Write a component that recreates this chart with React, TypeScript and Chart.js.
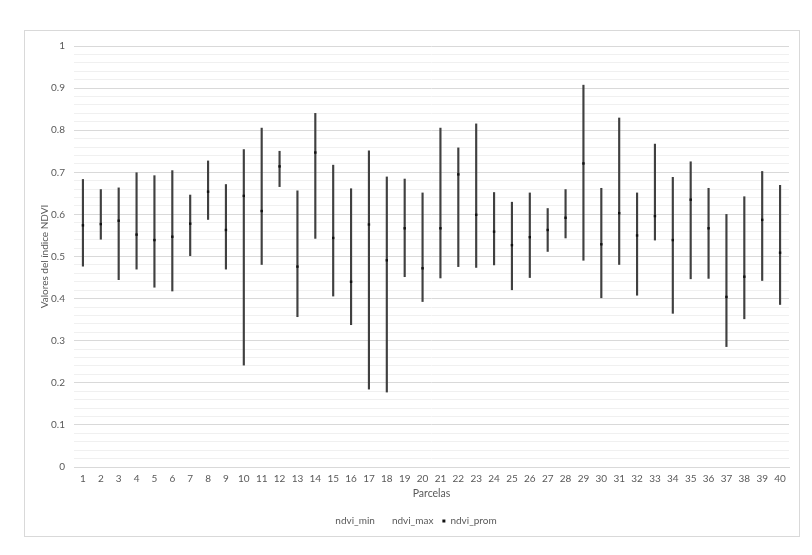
import React, { useEffect, useRef } from 'react';
import { Chart, registerables } from 'chart.js';

Chart.register(...registerables);

const parcelas = ['1','2','3','4','5','6','7','8','9','10','11','12','13','14','15','16','17','18','19','20','21','22','23','24','25','26','27','28','29','30','31','32','33','34','35','36','37','38','39','40'];

const ndviMin = [0.477,0.541,0.445,0.470,0.427,0.418,0.502,0.588,0.470,0.242,0.481,0.666,0.357,0.543,0.406,0.338,0.185,0.178,0.452,0.393,0.449,0.476,0.474,0.480,0.421,0.450,0.512,0.544,0.491,0.402,0.481,0.408,0.539,0.365,0.447,0.448,0.286,0.352,0.443,0.386];

const ndviMax = [0.683,0.659,0.663,0.699,0.692,0.704,0.646,0.727,0.671,0.754,0.805,0.750,0.656,0.840,0.717,0.661,0.751,0.689,0.684,0.651,0.805,0.758,0.815,0.652,0.629,0.651,0.614,0.659,0.907,0.662,0.829,0.651,0.767,0.688,0.725,0.662,0.600,0.642,0.702,0.669];

const ndviProm = [0.574,0.577,0.585,0.552,0.539,0.547,0.578,0.654,0.563,0.644,0.608,0.714,0.476,0.747,0.544,0.440,0.576,0.491,0.567,0.472,0.567,0.695,0.599,0.559,0.527,0.546,0.563,0.592,0.721,0.529,0.603,0.550,0.596,0.539,0.635,0.567,0.404,0.452,0.587,0.509];

const yMajorTicks = [0, 0.1, 0.2, 0.3, 0.4, 0.5, 0.6, 0.7, 0.8, 0.9, 1];
const yMinorStep = 0.02;

const TEXT = '#595959';
const FONT = 'Lato, "Open Sans", sans-serif';

function isMajor(v: number) {
  return Math.abs(v * 10 - Math.round(v * 10)) < 1e-6;
}

export default function App() {
  const ref = useRef<HTMLCanvasElement | null>(null);

  useEffect(() => {
    if (!ref.current) return;
    const chart = new Chart(ref.current, {
      type: 'bar',
      data: {
        labels: parcelas,
        datasets: [
          {
            type: 'line',
            label: 'ndvi_min',
            data: ndviMin,
            showLine: false,
            pointRadius: 0,
            pointStyle: 'rect',
            backgroundColor: 'rgba(0,0,0,0)',
            borderColor: 'rgba(0,0,0,0)',
            order: 1,
          },
          {
            type: 'line',
            label: 'ndvi_max',
            data: ndviMax,
            showLine: false,
            pointRadius: 0,
            pointStyle: 'rect',
            backgroundColor: 'rgba(0,0,0,0)',
            borderColor: 'rgba(0,0,0,0)',
            order: 1,
          },
          {
            type: 'line',
            label: 'ndvi_prom',
            data: ndviProm,
            showLine: false,
            pointRadius: 1.7,
            pointStyle: 'rect',
            pointBorderWidth: 0,
            backgroundColor: '#111111',
            borderColor: '#111111',
            order: 0,
          },
          {
            type: 'bar',
            label: 'range',
            data: ndviMin.map((m, i) => [m, ndviMax[i]]) as any,
            backgroundColor: '#404040',
            borderWidth: 0,
            barThickness: 1.5,
            order: 2,
          } as any,
        ],
      },
      options: {
        animation: false,
        responsive: false,
        maintainAspectRatio: false,
        layout: { padding: { left: 10, right: 10, top: 7, bottom: 0 } },
        plugins: {
          tooltip: { enabled: false },
          legend: {
            position: 'bottom',
            labels: {
              filter: (item: any) => item.text !== 'range',
              sort: (a: any, b: any) => a.datasetIndex - b.datasetIndex,
              usePointStyle: true,
              boxWidth: 3,
              boxHeight: 3,
              padding: 9,
              color: TEXT,
              font: { family: FONT, size: 10 },
            },
          },
        },
        scales: {
          x: {
            type: 'category',
            offset: true,
            grid: { display: false, drawTicks: false },
            border: { display: true, color: '#d9d9d9', width: 1 },
            ticks: {
              autoSkip: false,
              maxRotation: 0,
              padding: 6,
              color: TEXT,
              font: { family: FONT, size: 10 },
            },
            title: {
              display: true,
              text: 'Parcelas',
              color: TEXT,
              font: { family: FONT, size: 10.5 },
              padding: { top: 4, bottom: 7 },
            },
            afterFit: (scale: any) => {
              scale.height = 40;
            },
          },
          y: {
            type: 'linear',
            min: 0,
            max: 1,
            grid: {
              drawTicks: false,
              color: (ctx: any) =>
                ctx.tick && isMajor(ctx.tick.value) ? '#d9d9d9' : '#f0f0f0',
            },
            border: { display: false },
            afterBuildTicks: (scale: any) => {
              const ticks: any[] = [];
              const n = Math.round(1 / yMinorStep);
              for (let i = 0; i <= n; i++) ticks.push({ value: +(i * yMinorStep).toFixed(2) });
              scale.ticks = ticks;
            },
            ticks: {
              autoSkip: false,
              padding: 9,
              color: TEXT,
              font: { family: FONT, size: 10 },
              callback: (v: any) => {
                const val = Number(v);
                const m = yMajorTicks.find((t) => Math.abs(t - val) < 1e-6);
                return m === undefined ? '' : String(m);
              },
            },
            title: {
              display: true,
              text: 'Valores del índice NDVI',
              color: TEXT,
              font: { family: FONT, size: 10 },
              padding: { top: 4, bottom: 4 },
            },
            afterFit: (scale: any) => {
              scale.width = 39;
            },
          },
        },
      } as any,
    });
    return () => chart.destroy();
  }, []);

  return (
    <div style={{ position: 'fixed', left: 0, top: 0, width: 812, height: 555, background: '#fff' }}>
      <div
        style={{
          position: 'absolute',
          left: 24,
          top: 30,
          width: 776,
          height: 507,
          border: '1px solid #d9d9d9',
          boxSizing: 'border-box',
        }}
      >
        <canvas ref={ref} width={774} height={505} style={{ display: 'block', width: 774, height: 505 }} />
      </div>
    </div>
  );
}
